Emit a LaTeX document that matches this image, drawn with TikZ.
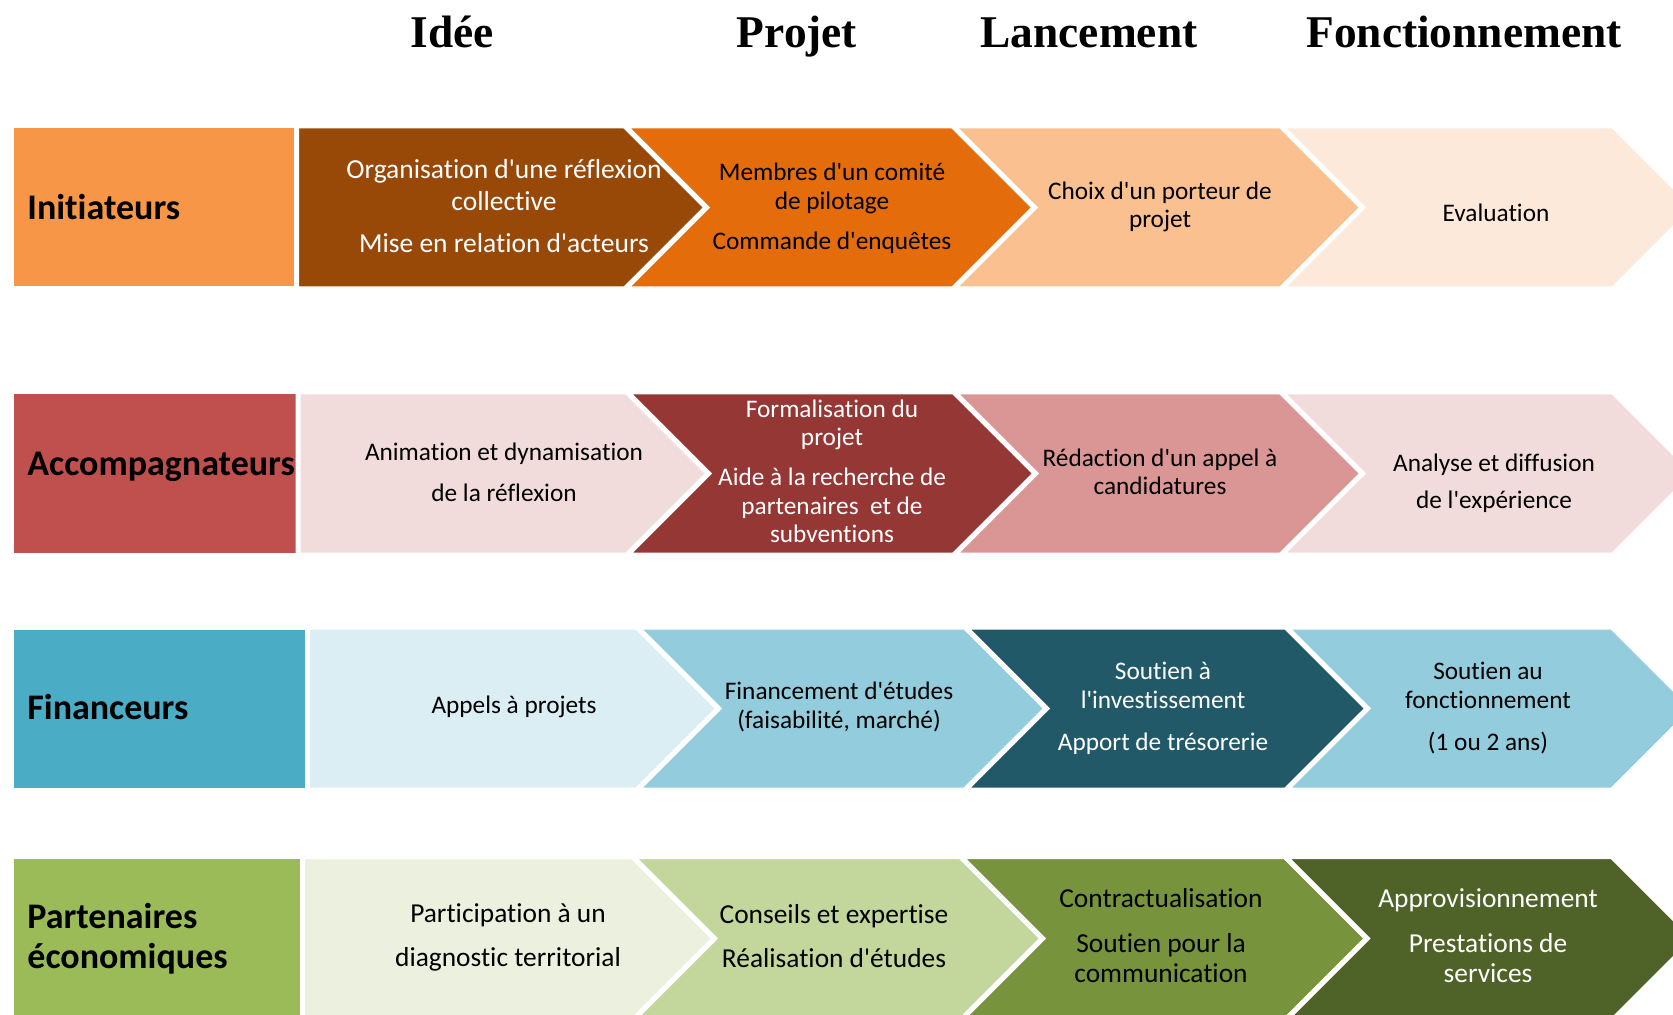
\documentclass[tikz,border=0pt]{standalone}
\usepackage{fontspec}
\setmainfont{Carlito}[Ligatures={TeXOff,CommonOff}]
\newfontfamily\hdrfont{Liberation Serif}
\definecolor{oA}{HTML}{F79646}\definecolor{oB}{HTML}{984807}\definecolor{oC}{HTML}{E46C0A}\definecolor{oD}{HTML}{FAC090}\definecolor{oE}{HTML}{FDE9D9}
\definecolor{rA}{HTML}{C0504D}\definecolor{rB}{HTML}{F2DCDB}\definecolor{rC}{HTML}{953735}\definecolor{rD}{HTML}{D99694}\definecolor{rE}{HTML}{F2DCDB}
\definecolor{bA}{HTML}{4BACC6}\definecolor{bB}{HTML}{DBEEF4}\definecolor{bC}{HTML}{93CDDD}\definecolor{bD}{HTML}{215968}\definecolor{bE}{HTML}{93CDDD}
\definecolor{gA}{HTML}{9BBB59}\definecolor{gB}{HTML}{EBF1DE}\definecolor{gC}{HTML}{C3D69B}\definecolor{gD}{HTML}{77933C}\definecolor{gE}{HTML}{4F6228}
\newcommand\myfs[2]{\fontsize{#1}{#2}\selectfont}
% left right top bottom colour
\newcommand\pentshape[5]{\fill[#5,draw=white,line width=2.5pt] (#1,#3) -- (#2,#3) -- ({#2+(#4-#3)/2},{(#3+#4)/2}) -- (#2,#4) -- (#1,#4) -- cycle;}
\newcommand\chevshape[5]{\fill[#5,draw=white,line width=2.5pt] (#1,#3) -- (#2,#3) -- ({#2+(#4-#3)/2},{(#3+#4)/2}) -- (#2,#4) -- (#1,#4) -- ({#1+(#4-#3)/2},{(#3+#4)/2}) -- cycle;}
\newcommand\labshape[5]{\fill[#5,draw=white,line width=2.5pt] (#1,#3) rectangle (#2,#4);}
\begin{document}
\begin{tikzpicture}[x=0.5pt,y=-0.5pt,
  hdr/.style={font=\hdrfont\bfseries\myfs{22.7}{26}, anchor=base, inner sep=0pt},
  lab/.style={font=\bfseries\myfs{18}{20}, anchor=west, align=left, inner sep=0pt, text=black},
  cell/.style={align=center, inner sep=0pt, text=black, font=\myfs{12.65}{14.5}},
  wt/.style={text=white}]
\useasboundingbox (0,0) rectangle (1673,1015);
\clip (0,0) rectangle (1673,1015);
% headers
\node[hdr] (h1) at (452,48) {Idée};
\node[hdr] (h2) at (797,48) {Projet};
\node[hdr] (h3) at (1089,48) {Lancement};
\node[hdr] (h4) at (1464,48) {Fonctionnement};
% row 1
\labshape{11.5}{296.5}{126}{289}{oA}
\pentshape{296.5}{625}{126}{289}{oB}
\chevshape{625}{953}{126}{289}{oC}
\chevshape{953}{1281}{126}{289}{oD}
\chevshape{1281}{1613}{126}{289}{oE}
% row 2
\labshape{11.5}{298}{392}{555}{rA}
\pentshape{298}{627}{392}{555}{rB}
\chevshape{627}{954}{392}{555}{rC}
\chevshape{954}{1281}{392}{555}{rD}
\chevshape{1281}{1613}{392}{555}{rE}
% row 3
\labshape{11.5}{307.5}{627}{790}{bA}
\pentshape{307.5}{637}{627}{790}{bB}
\chevshape{637}{965}{627}{790}{bC}
\chevshape{965}{1286}{627}{790}{bD}
\chevshape{1286}{1612}{627}{790}{bE}
% row 4
\labshape{11.5}{302.5}{856.5}{1020.5}{gA}
\pentshape{302.5}{632.5}{856.5}{1020.5}{gB}
\chevshape{632.5}{960.5}{856.5}{1020.5}{gC}
\chevshape{960.5}{1285}{856.5}{1020.5}{gD}
\chevshape{1285}{1612}{856.5}{1020.5}{gE}
% labels
\node[lab] (l1) at (27,207) {Initiateurs};
\node[lab] (l2) at (27,467) {Accompagnateurs};
\node[lab] (l3) at (27,707) {Financeurs};
\node[lab] (l4) at (27,939) {Partenaires\\économiques};
% row 1 texts
\node[cell,wt,font=\myfs{13.75}{16}] (c11) at (504,206) {Organisation d'une réflexion\\collective\\[5pt]Mise en relation d'acteurs};
\node[cell] (c12) at (832,208.5) {Membres d'un comité\\de pilotage\\[5.5pt]Commande d'enquêtes};
\node[cell,font=\myfs{12.65}{14}] (c13) at (1160,207) {Choix d'un porteur de\\projet};
\node[cell] (c14) at (1496,213) {Evaluation};
% row 2 texts
\node[cell] (c21) at (504,472) {Animation et dynamisation\\[6pt]de la réflexion};
\node[cell,wt,font=\myfs{12.65}{14.25}] (c22) at (832,471.5) {Formalisation du\\projet\\[5.75pt]Aide à la recherche de\\partenaires~ et de\\subventions};
\node[cell,font=\myfs{12.65}{14}] (c23) at (1160,471.5) {Rédaction d'un appel à\\candidatures};
\node[cell] (c24) at (1494,483.5) {Analyse et diffusion\\[4pt]de l'expérience};
% row 3 texts
\node[cell] (c31) at (514,707) {Appels à projets};
\node[cell] (c32) at (839,706.5) {Financement d'études\\(faisabilité, marché)};
\node[cell,wt] (c33) at (1163,708.5) {Soutien à\\l'investissement\\[6.5pt]Apport de trésorerie};
\node[cell] (c34) at (1488,708.5) {Soutien au\\fonctionnement\\[6.5pt](1 ou 2 ans)};
% row 4 texts
\node[cell,font=\myfs{13.7}{16}] (c41) at (508,937) {Participation à un\\[6pt]diagnostic territorial};
\node[cell,font=\myfs{13.7}{16}] (c42) at (834,936.5) {Conseils et expertise\\[6pt]Réalisation d'études};
\node[cell,font=\myfs{13.7}{15}] (c43) at (1161,935.5) {Contractualisation\\[7.5pt]Soutien pour la\\communication};
\node[cell,wt,font=\myfs{13.7}{15}] (c44) at (1488,935.5) {Approvisionnement\\[7.5pt]Prestations de\\services};
\end{tikzpicture}
\end{document}
